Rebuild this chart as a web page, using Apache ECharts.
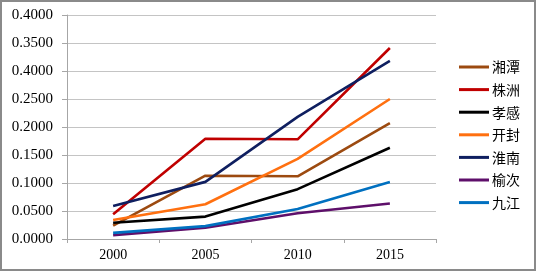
<!DOCTYPE html>
<html>
<head>
<meta charset="utf-8">
<script src="https://cdn.jsdelivr.net/npm/echarts@6/dist/echarts.min.js"></script>
<style>html,body{margin:0;padding:0;background:#fff}#c{width:537px;height:272px}</style>
</head>
<body>
<div id="c"></div>
<script>
const years = ['2000', '2005', '2010', '2015'];
const yTickLabels = ['0.0000', '0.0500', '0.1000', '0.1500', '0.2000', '0.2500', '0.4000', '0.3500', '0.4000'];
const names = ['湘潭', '株洲', '孝感', '开封', '淮南', '榆次', '九江'];
const xiangtan = [0.024, 0.113, 0.112, 0.207];
const zhuzhou = [0.044, 0.179, 0.178, 0.341];
const xiaogan = [0.029, 0.040, 0.089, 0.163];
const kaifeng = [0.034, 0.062, 0.143, 0.250];
const huainan = [0.059, 0.102, 0.218, 0.318];
const yuci = [0.007, 0.020, 0.046, 0.0635];
const jiujiang = [0.011, 0.023, 0.0535, 0.102];
const colors = ['#9C4A10', '#C00000', '#000000', '#FF7010', '#0F1F60', '#5E0F6A', '#0070C0'];
const seriesData = [xiangtan, zhuzhou, xiaogan, kaifeng, huainan, yuci, jiujiang];

const chart = echarts.init(document.getElementById('c'), null, {renderer: 'canvas'});
chart.setOption({
  animation: false,
  backgroundColor: '#fff',
  color: colors,
  graphic: [{
    type: 'rect', shape: {x: 1, y: 1, width: 534, height: 269},
    style: {fill: 'none', stroke: '#8a8a8a', lineWidth: 2}, silent: true
  }],
  grid: {left: 67, right: 101, top: 15, bottom: 33},
  legend: {
    orient: 'vertical', left: 459, top: 60, padding: 0,
    itemWidth: 30, itemHeight: 3, itemGap: 8.6, icon: 'rect',
    textStyle: {fontFamily: 'Noto Sans CJK SC', fontSize: 14, color: '#000', lineHeight: 14, padding: [0, 0, 0, -2]},
    data: names
  },
  xAxis: {
    type: 'category', data: years, boundaryGap: true,
    axisLine: {lineStyle: {color: '#a6a6a6', width: 1}},
    axisTick: {show: true, length: 4, lineStyle: {color: '#a6a6a6'}},
    axisLabel: {fontFamily: 'Liberation Serif', fontSize: 14, color: '#000', margin: 9}
  },
  yAxis: {
    type: 'value', min: 0, max: 0.4, interval: 0.05,
    axisLine: {show: true, lineStyle: {color: '#a6a6a6', width: 1}},
    axisTick: {show: true, length: 5, lineStyle: {color: '#a6a6a6'}},
    splitLine: {lineStyle: {color: '#c4c4c4', width: 1}},
    axisLabel: {
      fontFamily: 'Liberation Serif', fontSize: 15, color: '#000', margin: 14,
      formatter: v => yTickLabels[Math.round(v / 0.05)]
    }
  },
  series: names.map((n, i) => ({
    name: n, type: 'line', data: seriesData[i],
    showSymbol: false, symbol: 'none',
    lineStyle: {width: 2.6, color: colors[i]},
    itemStyle: {color: colors[i]}
  }))
});
</script>
</body>
</html>
